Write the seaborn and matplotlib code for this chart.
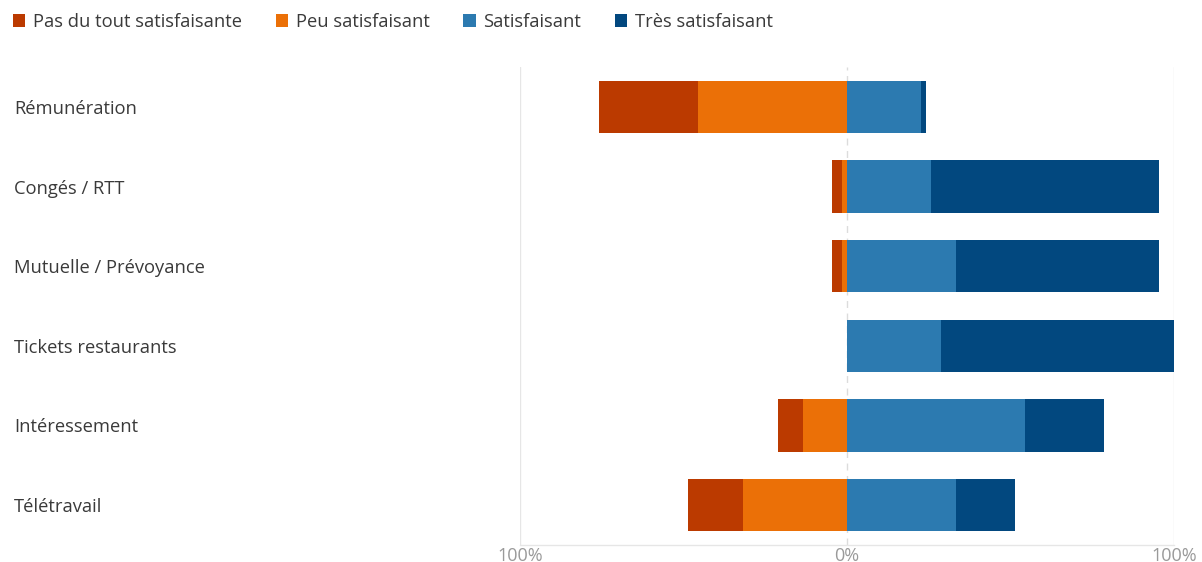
import matplotlib
matplotlib.use("Agg")
import matplotlib.pyplot as plt
from matplotlib.patches import Patch
import seaborn as sns
import pandas as pd

# Survey results, share of respondents (%) per satisfaction level
categories = [
    "Rémunération",
    "Congés / RTT",
    "Mutuelle / Prévoyance",
    "Tickets restaurants",
    "Intéressement",
    "Télétravail",
]
pas_du_tout = [30.3, 3.0, 3.0, 0.0, 7.6, 16.7]
peu = [45.5, 1.5, 1.5, 0.0, 13.6, 31.8]
satisfaisant = [22.7, 25.8, 33.3, 28.8, 54.5, 33.3]
tres = [1.5, 69.7, 62.1, 71.2, 24.2, 18.2]

series_names = [
    "Pas du tout satisfaisante",
    "Peu satisfaisant",
    "Satisfaisant",
    "Très satisfaisant",
]
colors = ["#BB3A00", "#EB7007", "#2C7AB0", "#02487F"]

x_ticks = [-100, 0, 100]
x_tick_labels = ["100%", "0%", "100%"]

sns.set_theme(style="white")
plt.rcParams["font.family"] = ["Open Sans", "DejaVu Sans"]

df = pd.DataFrame({
    "categorie": categories,
    "pas": pas_du_tout,
    "peu": peu,
    "sat": satisfaisant,
    "tres": tres,
})
# Diverging stack: negative side for dissatisfaction, positive for satisfaction
df["neg_outer"] = -(df["pas"] + df["peu"])
df["neg_inner"] = -df["peu"]
df["pos_outer"] = df["sat"] + df["tres"]
df["pos_inner"] = df["sat"]

W, H = 1202, 562
fig = plt.figure(figsize=(W / 100, H / 100), dpi=100)
ax = fig.add_axes([520 / W, 1 - 545 / H, (1174 - 520) / W, (545 - 67) / H])

layers = [
    ("neg_outer", colors[0]),
    ("neg_inner", colors[1]),
    ("pos_outer", colors[3]),
    ("pos_inner", colors[2]),
]
for col, c in layers:
    sns.barplot(data=df, x=col, y="categorie", orient="h", color=c,
                saturation=1, width=0.66, linewidth=0, errorbar=None,
                ax=ax, zorder=2)

# Reference lines
ax.axvline(-100, color="#E6E6E6", lw=1, zorder=0)
ax.axvline(100, color="#E6E6E6", lw=1, zorder=0)
ax.axvline(0, color="#DCDCDC", lw=1, ls=(0, (5, 4)), zorder=0)

ax.set_xlim(-100, 100)
ax.set_xticks(x_ticks)
ax.set_xticklabels(x_tick_labels)
ax.tick_params(axis="x", length=0, pad=1.5, labelsize=13, labelcolor="#9A9A9A")

ax.tick_params(axis="y", length=0, pad=(520 - 14) * 0.72, labelsize=13.2,
               labelcolor="#3A3A3A")
for lab in ax.get_yticklabels():
    lab.set_horizontalalignment("left")

ax.set_xlabel("")
ax.set_ylabel("")
for side in ["top", "left", "right"]:
    ax.spines[side].set_visible(False)
ax.spines["bottom"].set_color("#E6E6E6")
ax.spines["bottom"].set_linewidth(1)

handles = [Patch(facecolor=c, edgecolor="none") for c in colors]
fig.legend(handles, series_names, loc="upper left",
           bbox_to_anchor=(13 / W, 1 - 13 / H), ncol=4, frameon=False,
           fontsize=13.2, labelcolor="#3A3A3A", handlelength=0.68,
           handleheight=0.68, handletextpad=0.4, columnspacing=1.85,
           borderpad=0, borderaxespad=0)

fig.savefig("out.png", dpi=100, facecolor="white")
